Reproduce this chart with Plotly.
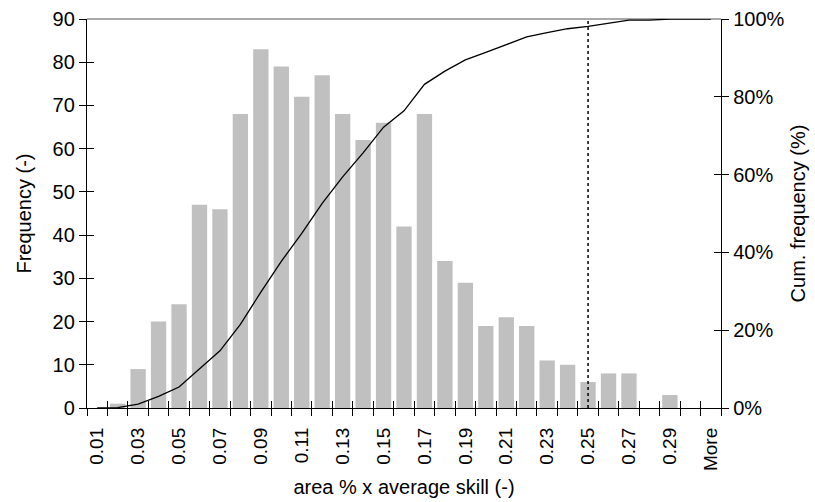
import plotly.graph_objects as go

categories = [f"{v/100:.2f}" for v in range(1, 31)] + ["More"]
frequency = [0, 1, 9, 20, 24, 47, 46, 68, 83, 79, 72, 77, 68, 62, 66, 42,
             68, 34, 29, 19, 21, 19, 11, 10, 6, 8, 8, 0, 3, 0, 0]
tick_labels = [c if i % 2 == 0 else "" for i, c in enumerate(categories)]
threshold_category = "0.25"

total = sum(frequency)
cumulative = []
running = 0
for f in frequency:
    running += f
    cumulative.append(running / total)

FONT = "Liberation Sans, Arial, Helvetica, sans-serif"
n = len(categories)
boundaries = [i - 0.5 for i in range(n + 1)]

fig = go.Figure()
fig.add_trace(go.Bar(x=categories, y=frequency, marker=dict(color="#c0c0c0", line=dict(width=0)),
                     xaxis="x", yaxis="y", showlegend=False, hoverinfo="x+y"))
fig.add_trace(go.Scatter(x=categories, y=cumulative, mode="lines",
                         line=dict(color="black", width=1.3),
                         xaxis="x", yaxis="y2", showlegend=False))

common_tick = dict(color="black", family=FONT)

fig.update_layout(
    width=815, height=502,
    margin=dict(l=87, r=94, t=19, b=94),
    paper_bgcolor="white", plot_bgcolor="white",
    bargap=0.25,
    font=dict(family=FONT, size=20, color="black"),
    xaxis=dict(
        type="category", categoryorder="array", categoryarray=categories,
        range=[-0.5, n - 0.5], automargin=False,
        tickmode="array", tickvals=categories, ticktext=tick_labels,
        tickson="boundaries", ticks="outside", ticklen=7, tickwidth=1.2, tickcolor="black",
        tickangle=-90, tickfont=dict(size=19, **common_tick), ticklabelstandoff=11,
        showline=True, linecolor="black", linewidth=1.3,
        showgrid=False, zeroline=False,
        title=dict(text="area % x average skill (-)", font=dict(size=20), standoff=9),
    ),
    xaxis2=dict(
        overlaying="x", anchor="y", side="bottom", automargin=False,
        range=[-0.5, n - 0.5], tickmode="array", tickvals=boundaries,
        ticks="inside", ticklen=7, tickwidth=1.2, tickcolor="black",
        showticklabels=False, showgrid=False, zeroline=False, showline=False,
    ),
    yaxis=dict(
        range=[0, 90], dtick=10, tick0=0, automargin=False,
        ticks="outside", ticklen=7, tickwidth=1.2, tickcolor="black",
        tickfont=dict(size=20, **common_tick),
        showline=True, linecolor="black", linewidth=1.3,
        showgrid=False, zeroline=False,
        title=dict(text="Frequency (-)", font=dict(size=20), standoff=15),
    ),
    yaxis3=dict(
        overlaying="y", anchor="x", side="left", automargin=False,
        range=[0, 90], dtick=10, tick0=0,
        ticks="inside", ticklen=7, tickwidth=1.2, tickcolor="black",
        showticklabels=False, showgrid=False, zeroline=False, showline=False,
    ),
    yaxis2=dict(
        overlaying="y", anchor="x", side="right", automargin=False,
        range=[0, 1], dtick=0.2, tick0=0, tickformat=".0%",
        ticks="outside", ticklen=7, tickwidth=1.2, tickcolor="black",
        tickfont=dict(size=20, **common_tick),
        showline=True, linecolor="black", linewidth=1.3,
        showgrid=False, zeroline=False,
        title=dict(text="Cum. frequency (%)", font=dict(size=20), standoff=7),
    ),
    yaxis4=dict(
        overlaying="y", anchor="x", side="right", automargin=False,
        range=[0, 1], dtick=0.2, tick0=0,
        ticks="inside", ticklen=7, tickwidth=1.2, tickcolor="black",
        showticklabels=False, showgrid=False, zeroline=False, showline=False,
    ),
    shapes=[
        dict(type="line", xref="paper", yref="paper", x0=0, x1=1, y0=1, y1=1,
             line=dict(color="#8c8c8c", width=1.3), layer="below"),
        dict(type="line", xref="x", yref="paper",
             x0=categories.index(threshold_category), x1=categories.index(threshold_category),
             y0=0, y1=1, line=dict(color="black", width=1.5, dash="dot")),
    ],
)

# invisible helper traces so the overlay tick axes are rendered
fig.add_trace(go.Scatter(x=[boundaries[0]], y=[0], xaxis="x2", yaxis="y3", mode="markers",
                         marker=dict(opacity=0), showlegend=False, hoverinfo="skip"))
fig.add_trace(go.Scatter(x=[boundaries[0]], y=[0], xaxis="x2", yaxis="y4", mode="markers",
                         marker=dict(opacity=0), showlegend=False, hoverinfo="skip"))

fig.write_html("out.html")
